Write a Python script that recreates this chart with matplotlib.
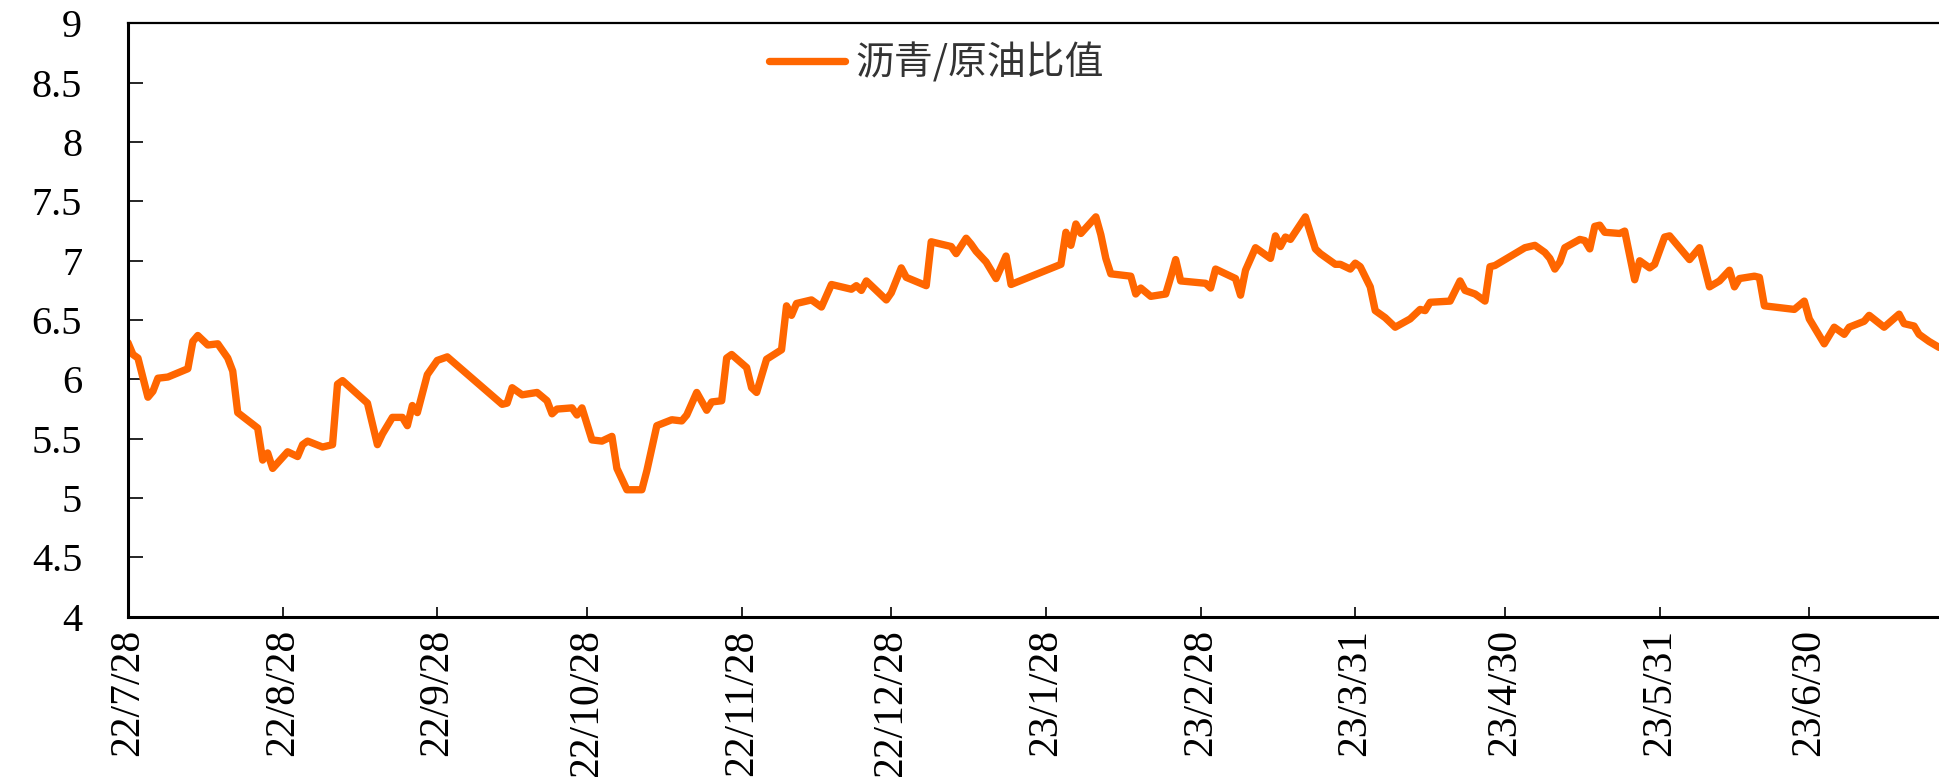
import datetime as dt

import matplotlib
matplotlib.use("Agg")
import matplotlib.pyplot as plt
import matplotlib.dates as mdates
from matplotlib.ticker import FixedLocator, FuncFormatter

# ── data (vertices) ──────────────────────────────────────────────────────
dates = [
    "2022-07-28", "2022-07-29", "2022-07-30", "2022-08-01", "2022-08-02",
    "2022-08-03", "2022-08-05", "2022-08-09", "2022-08-10", "2022-08-11",
    "2022-08-13", "2022-08-15", "2022-08-17", "2022-08-18", "2022-08-19",
    "2022-08-23", "2022-08-24", "2022-08-25", "2022-08-26", "2022-08-29",
    "2022-08-31", "2022-09-01", "2022-09-02", "2022-09-05", "2022-09-07",
    "2022-09-08", "2022-09-09", "2022-09-14", "2022-09-16", "2022-09-17",
    "2022-09-19", "2022-09-21", "2022-09-22", "2022-09-23", "2022-09-24",
    "2022-09-26", "2022-09-28", "2022-09-30", "2022-10-11", "2022-10-12",
    "2022-10-13", "2022-10-15", "2022-10-18", "2022-10-20", "2022-10-21",
    "2022-10-22", "2022-10-25", "2022-10-26", "2022-10-27", "2022-10-29",
    "2022-10-31", "2022-11-02", "2022-11-03", "2022-11-05", "2022-11-08",
    "2022-11-09", "2022-11-11", "2022-11-14", "2022-11-16", "2022-11-17",
    "2022-11-19", "2022-11-21", "2022-11-22", "2022-11-24", "2022-11-25",
    "2022-11-26", "2022-11-29", "2022-11-30", "2022-12-01", "2022-12-03",
    "2022-12-06", "2022-12-07", "2022-12-08", "2022-12-09", "2022-12-12",
    "2022-12-14", "2022-12-16", "2022-12-20", "2022-12-21", "2022-12-22",
    "2022-12-23", "2022-12-27", "2022-12-28", "2022-12-30", "2022-12-31",
    "2023-01-04", "2023-01-05", "2023-01-09", "2023-01-10", "2023-01-12",
    "2023-01-13", "2023-01-14", "2023-01-16", "2023-01-18", "2023-01-20",
    "2023-01-21", "2023-01-31", "2023-02-01", "2023-02-02", "2023-02-03",
    "2023-02-04", "2023-02-07", "2023-02-08", "2023-02-09", "2023-02-10",
    "2023-02-14", "2023-02-15", "2023-02-16", "2023-02-18", "2023-02-21",
    "2023-02-22", "2023-02-23", "2023-02-24", "2023-03-01", "2023-03-02",
    "2023-03-03", "2023-03-07", "2023-03-08", "2023-03-09", "2023-03-11",
    "2023-03-14", "2023-03-15", "2023-03-16", "2023-03-17", "2023-03-18",
    "2023-03-21", "2023-03-23", "2023-03-24", "2023-03-27", "2023-03-28",
    "2023-03-30", "2023-03-31", "2023-04-01", "2023-04-03", "2023-04-04",
    "2023-04-06", "2023-04-08", "2023-04-11", "2023-04-13", "2023-04-14",
    "2023-04-15", "2023-04-19", "2023-04-21", "2023-04-22", "2023-04-24",
    "2023-04-26", "2023-04-27", "2023-04-28", "2023-05-04", "2023-05-06",
    "2023-05-08", "2023-05-09", "2023-05-10", "2023-05-11", "2023-05-12",
    "2023-05-15", "2023-05-16", "2023-05-17", "2023-05-18", "2023-05-19",
    "2023-05-20", "2023-05-23", "2023-05-24", "2023-05-26", "2023-05-27",
    "2023-05-29", "2023-05-30", "2023-06-01", "2023-06-02", "2023-06-06",
    "2023-06-08", "2023-06-10", "2023-06-12", "2023-06-14", "2023-06-15",
    "2023-06-16", "2023-06-19", "2023-06-20", "2023-06-21", "2023-06-27",
    "2023-06-29", "2023-06-30", "2023-07-03", "2023-07-05", "2023-07-07",
    "2023-07-08", "2023-07-11", "2023-07-12", "2023-07-15", "2023-07-18",
    "2023-07-19", "2023-07-21", "2023-07-22", "2023-07-24", "2023-07-26",
]

ratio = [
    6.31, 6.21, 6.18, 5.85, 5.90,
    6.01, 6.02, 6.09, 6.32, 6.37,
    6.29, 6.30, 6.18, 6.07, 5.72,
    5.59, 5.32, 5.38, 5.25, 5.39,
    5.35, 5.45, 5.48, 5.43, 5.45,
    5.96, 5.99, 5.80, 5.45, 5.54,
    5.68, 5.68, 5.61, 5.78, 5.72,
    6.04, 6.16, 6.19, 5.79, 5.80,
    5.93, 5.87, 5.89, 5.82, 5.71,
    5.75, 5.76, 5.70, 5.76, 5.49,
    5.48, 5.52, 5.25, 5.07, 5.07,
    5.23, 5.61, 5.66, 5.65, 5.70,
    5.89, 5.74, 5.81, 5.82, 6.18,
    6.21, 6.10, 5.93, 5.89, 6.17,
    6.25, 6.62, 6.54, 6.64, 6.67,
    6.61, 6.80, 6.76, 6.79, 6.75,
    6.83, 6.67, 6.73, 6.94, 6.86,
    6.79, 7.16, 7.12, 7.06, 7.19,
    7.14, 7.08, 6.99, 6.85, 7.04,
    6.80, 6.97, 7.24, 7.13, 7.31,
    7.23, 7.37, 7.22, 7.02, 6.89,
    6.87, 6.72, 6.77, 6.70, 6.72,
    6.86, 7.01, 6.83, 6.81, 6.77,
    6.93, 6.85, 6.71, 6.92, 7.11,
    7.02, 7.21, 7.12, 7.20, 7.18,
    7.37, 7.10, 7.06, 6.97, 6.97,
    6.93, 6.98, 6.95, 6.78, 6.58,
    6.52, 6.44, 6.51, 6.59, 6.58,
    6.65, 6.66, 6.83, 6.75, 6.72,
    6.66, 6.95, 6.96, 7.11, 7.13,
    7.07, 7.02, 6.93, 6.99, 7.11,
    7.18, 7.17, 7.10, 7.29, 7.30,
    7.24, 7.23, 7.25, 6.84, 7.00,
    6.94, 6.97, 7.20, 7.21, 7.01,
    7.11, 6.78, 6.83, 6.92, 6.78,
    6.85, 6.87, 6.86, 6.62, 6.59,
    6.66, 6.51, 6.30, 6.44, 6.38,
    6.44, 6.49, 6.54, 6.44, 6.55,
    6.47, 6.45, 6.38, 6.32, 6.27,
]

tick_dates = ["2022-07-28", "2022-08-28", "2022-09-28", "2022-10-28",
              "2022-11-28", "2022-12-28", "2023-01-28", "2023-02-28",
              "2023-03-31", "2023-04-30", "2023-05-31", "2023-06-30"]
tick_labels = ["22/7/28", "22/8/28", "22/9/28", "22/10/28", "22/11/28",
               "22/12/28", "23/1/28", "23/2/28", "23/3/31", "23/4/30",
               "23/5/31", "23/6/30"]
y_ticks = [4, 4.5, 5, 5.5, 6, 6.5, 7, 7.5, 8, 8.5, 9]
series_name = "沥青/原油比值"

LINE_COLOR = "#FF6600"
NUM_FONT = "Liberation Serif"


def _d(s):
    return dt.datetime.strptime(s, "%Y-%m-%d")


x = [_d(s) for s in dates]

fig = plt.figure(figsize=(19.39, 7.77), dpi=100)
ax = fig.add_axes([0.0660, 0.2063, 0.9340, 0.7635])

ax.plot(x, ratio, color=LINE_COLOR, lw=5.3, solid_joinstyle="round",
        solid_capstyle="round", label=series_name)

ax.set_xlim(x[0], x[-1])
ax.set_ylim(4, 9)

# axes frame: thick left/bottom, thinner top, no right spine
ax.spines["right"].set_visible(False)
ax.spines["left"].set_linewidth(2.2)
ax.spines["bottom"].set_linewidth(2.2)
ax.spines["top"].set_linewidth(1.6)

ax.xaxis.set_major_locator(FixedLocator([mdates.date2num(_d(s)) for s in tick_dates]))
ax.set_xticklabels(tick_labels, rotation=90, fontsize=30, family=NUM_FONT)
ax.yaxis.set_major_locator(FixedLocator(y_ticks))
ax.yaxis.set_major_formatter(FuncFormatter(lambda v, _: f"{v:g}"))
ax.tick_params(axis="y", direction="in", length=11, width=1.2, pad=33,
               labelsize=29)
ax.tick_params(axis="x", direction="in", length=7, width=1.2, pad=9)
plt.setp(ax.get_yticklabels(), family=NUM_FONT)

leg = ax.legend(loc="center left", bbox_to_anchor=(0.354, 0.932), frameon=False,
                handlelength=1.95, handletextpad=0.28, borderpad=0, borderaxespad=0,
                prop={"family": ["Noto Sans CJK SC", "DejaVu Sans"], "size": 28})
for t in leg.get_texts():
    t.set_color("#333333")

fig.savefig("out.png", dpi=100)
plt.close(fig)
